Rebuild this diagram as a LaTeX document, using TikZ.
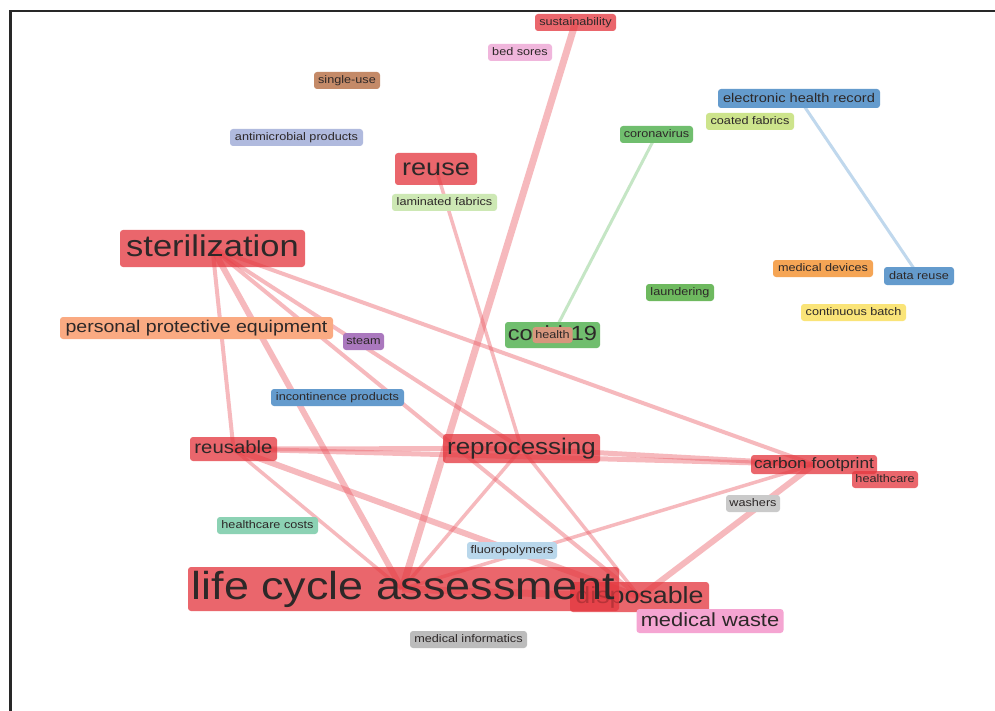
\documentclass[tikz,border=0pt]{standalone}
\usepackage{fontspec}
\setmainfont[FakeStretch=1.15]{Liberation Sans}
\newcommand\fsz[1]{\fontsize{#1}{#1}\selectfont}
\newcommand\labstrut{\rule[-0.2em]{0pt}{0.96em}}
\definecolor{cRed}{RGB}{228,55,62}
\definecolor{cEdge}{RGB}{235,90,100}
\definecolor{cGreenEdge}{RGB}{150,210,150}
\definecolor{cBlueEdge}{RGB}{150,190,225}
\definecolor{cPinkL}{RGB}{240,182,220}
\definecolor{cBrown}{RGB}{196,138,104}
\definecolor{cLav}{RGB}{176,186,222}
\definecolor{cBlue}{RGB}{100,155,205}
\definecolor{cYGreen}{RGB}{205,228,140}
\definecolor{cGreen}{RGB}{112,190,110}
\definecolor{cLGreen}{RGB}{205,232,180}
\definecolor{cOrange}{RGB}{245,165,85}
\definecolor{cDGreen}{RGB}{110,185,95}
\definecolor{cYellow}{RGB}{250,228,120}
\definecolor{cSalmon}{RGB}{250,170,130}
\definecolor{cHealth}{RGB}{215,150,125}
\definecolor{cPurple}{RGB}{170,120,190}
\definecolor{cLGray}{RGB}{202,202,202}
\definecolor{cTeal}{RGB}{140,210,180}
\definecolor{cLBlue}{RGB}{185,215,235}
\definecolor{cPink}{RGB}{245,165,210}
\definecolor{cGray}{RGB}{188,188,188}
\definecolor{cFrame}{RGB}{40,40,40}
\definecolor{cText}{RGB}{45,40,40}
\begin{document}
\begin{tikzpicture}[x=1pt,y=-1pt,
  lab/.style={rounded corners=3pt, inner sep=0pt, text=cText,
    execute at begin node=\labstrut},
  small/.style={lab, minimum height=17pt, font=\fsz{11}},
  rednode/.style={fill=cRed, fill opacity=0.76, text opacity=1},
  edge/.style={draw=cEdge, draw opacity=0.42, line cap=butt},
]
\useasboundingbox (0,0) rectangle (995,711);
\fill[white] (0,0) rectangle (995,711);
% frame
\draw[cFrame, line width=2.5pt] (10.5,711) -- (10.5,11) -- (995,11);

% coordinates of node centres
\coordinate (pSus) at (575.5,22.5);
\coordinate (pSteril) at (212.5,248.5);
\coordinate (pReuse) at (436,169);
\coordinate (pReusable) at (233.5,449);
\coordinate (pReproc) at (521.5,448.5);
\coordinate (pCarbon) at (814,464.5);
\coordinate (pLca) at (402,589);
\coordinate (pDisp) at (639.5,597);
\coordinate (pCorona) at (656.5,134.5);
\coordinate (pCovid) at (552.5,335);
\coordinate (pEhr) at (799,98.5);
\coordinate (pData) at (919,276);

% edges
\draw[edge, line width=7pt] (pSus) -- (pLca);
\draw[edge, line width=4pt] (pSteril) -- (pReusable);
\draw[edge, line width=6pt] (pSteril) -- (pLca);
\draw[edge, line width=4pt] (pSteril) -- (pDisp);
\draw[edge, line width=4pt] (pSteril) -- (pReproc);
\draw[edge, line width=4pt] (pSteril) -- (pCarbon);
\draw[edge, line width=3.5pt] (pReuse) -- (pReproc);
\draw[edge, line width=5pt] (pReusable) -- (pReproc);
\draw[edge, line width=5pt] (pReusable) -- (pCarbon);
\draw[edge, line width=5pt] (pReproc) -- (pCarbon);
\draw[edge, line width=6pt] (pReusable) -- (pDisp);
\draw[edge, line width=3.5pt] (pReusable) -- (pLca);
\draw[edge, line width=3.5pt] (pReproc) -- (pLca);
\draw[edge, line width=3.5pt] (pReproc) -- (pDisp);
\draw[edge, line width=3.5pt] (pCarbon) -- (pLca);
\draw[edge, line width=6pt] (pCarbon) -- (pDisp);
\draw[edge, line width=7pt] (pLca) -- (pDisp);
\draw[draw=cGreenEdge, draw opacity=0.55, line width=3pt] (pCorona) -- (pCovid);
\draw[draw=cBlueEdge, draw opacity=0.6, line width=3pt] (pEhr) -- (pData);

% nodes
\node[small, rednode, minimum width=81pt] (sus) at (pSus) {sustainability};
\node[small, fill=cPinkL, minimum width=64pt] (bed) at (520,52.5) {bed sores};
\node[small, fill=cBrown, minimum width=66pt] (single) at (347,80.5) {single-use};
\node[small, fill=cLav, minimum width=133pt] (anti) at (296.5,137.5) {antimicrobial products};
\node[lab, fill=cBlue, minimum width=162pt, minimum height=19pt, font=\fsz{12.7}] (ehr) at (pEhr) {electronic health record};
\node[small, fill=cYGreen, minimum width=88pt] (coated) at (750,121.5) {coated fabrics};
\node[small, fill=cGreen, minimum width=73pt] (corona) at (pCorona) {coronavirus};
\node[lab, rednode, minimum width=82pt, minimum height=32pt, font=\fsz{23.5}] (reuse) at (pReuse) {reuse};
\node[small, fill=cLGreen, minimum width=105pt] (lam) at (444.5,202.5) {laminated fabrics};
\node[lab, rednode, minimum width=185pt, minimum height=37pt, font=\fsz{30}] (steril) at (pSteril) {sterilization};
\node[small, fill=cOrange, minimum width=100pt] (meddev) at (823,268.5) {medical devices};
\node[small, fill=cBlue, minimum width=70pt, minimum height=18pt] (data) at (pData) {data reuse};
\node[small, fill=cDGreen, minimum width=68pt] (laund) at (680,292.5) {laundering};
\node[small, fill=cYellow, minimum width=105pt] (contb) at (853.5,312.5) {continuous batch};
\node[lab, fill=cSalmon, minimum width=273pt, minimum height=22pt, font=\fsz{17}] (ppe) at (196.5,328) {personal protective equipment};
\node[lab, fill=cGreen, minimum width=95pt, minimum height=26pt, font=\fsz{20.5}] (covid) at (pCovid) {covid-19};
\node[lab, fill=cHealth, minimum width=40pt, minimum height=16pt, font=\fsz{11}] (health) at (552.5,335) {health};
\node[small, fill=cPurple, minimum width=41pt] (steam) at (363.5,341.5) {steam};
\node[small, fill=cBlue, minimum width=133pt] (incont) at (337.5,397.5) {incontinence products};
\node[lab, rednode, minimum width=87pt, minimum height=24pt, font=\fsz{17.7}] (reusable) at (pReusable) {reusable};
\node[lab, rednode, minimum width=157pt, minimum height=29pt, font=\fsz{22.6}] (reproc) at (pReproc) {reprocessing};
\node[lab, rednode, minimum width=126pt, minimum height=19pt, font=\fsz{15}] (carbon) at (pCarbon) {carbon footprint};
\node[small, rednode, minimum width=66pt] (hcare) at (885,479.5) {healthcare};
\node[small, fill=cLGray, minimum width=54pt] (washers) at (753,503.5) {washers};
\node[small, fill=cTeal, minimum width=101pt] (hcosts) at (267.5,525.5) {healthcare costs};
\node[small, fill=cLBlue, minimum width=90pt] (fluoro) at (512,550.5) {fluoropolymers};
\node[lab, rednode, minimum width=139pt, minimum height=30pt, font=\fsz{23.3}] (disp) at (pDisp) {disposable};
\node[lab, rednode, minimum width=431pt, minimum height=44pt, font=\fsz{39}] (lca) at (403.5,589) {life cycle assessment};
\node[lab, fill=cPink, minimum width=147pt, minimum height=24pt, font=\fsz{19}] (mwaste) at (710,621) {medical waste};
\node[small, fill=cGray, minimum width=117pt] (minf) at (468.5,639.5) {medical informatics};
\end{tikzpicture}
\end{document}
